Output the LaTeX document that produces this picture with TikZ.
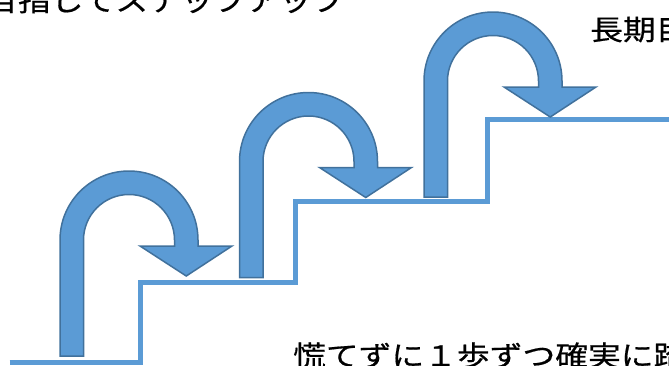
\documentclass[tikz,border=0pt]{standalone}
\usepackage{fontspec}
\newfontfamily\jp[FakeStretch=1.17, FakeBold=0.6]{Noto Sans CJK JP}
\definecolor{accent}{HTML}{5B9BD5}
\definecolor{accentdark}{HTML}{41719C}
\tikzset{
  stairline/.style={draw=accent, line width=5pt, line join=miter},
  uturnstyle/.style={fill=accent, draw=accentdark, line width=1.5pt, line join=miter},
  label/.style={anchor=base west, inner sep=0pt, font=\jp\fontsize{28}{30}\selectfont, text=black},
  uturn/.pic={
    \path[uturnstyle] (-69,-116) -- (-69,0) arc[start angle=180, end angle=0, radius=69]
      -- (69,-6) -- (103,-6) -- (57.25,-36) -- (11,-6) -- (45.5,-6) -- (45.5,0)
      arc[start angle=0, end angle=180, radius=45.5] -- (-45.5,-116) -- cycle;
  }
}
\begin{document}
\begin{tikzpicture}[x=1pt, y=1pt]
\useasboundingbox (0,0) rectangle (669,-365);
\clip (0,0) rectangle (669,-365);
% stairs
\coordinate (s0) at (9.5,-362.5);
\coordinate (s1) at (140,-362.5);
\coordinate (s2) at (140,-282);
\coordinate (s3) at (295,-282);
\coordinate (s4) at (295,-201);
\coordinate (s5) at (487,-201);
\coordinate (s6) at (487,-119);
\coordinate (s7) at (680,-119);
\draw[stairline] (s0) -- (s1) -- (s2) -- (s3) -- (s4) -- (s5) -- (s6) -- (s7);
% arrows
\pic at (129,-240) {uturn};
\pic at (308.5,-161.5) {uturn};
\pic at (493,-81) {uturn};
% texts
\node[label] (t1) at (-15,-11) {目指してステップアップ};
\node[label] (t2) at (590,-40) {長期目};
\node[label] (t3) at (293,-366) {慌てずに１歩ずつ確実に踏};
\end{tikzpicture}
\end{document}
